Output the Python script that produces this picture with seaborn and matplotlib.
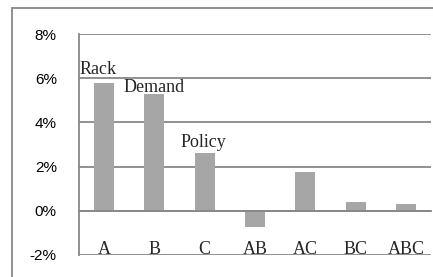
import matplotlib
matplotlib.use('Agg')
import matplotlib.pyplot as plt
from matplotlib.lines import Line2D
from matplotlib.ticker import FuncFormatter, FixedLocator
import seaborn as sns

sns.set_style('white')

# data (percent)
categories = ['A', 'B', 'C', 'AB', 'AC', 'BC', 'ABC']
effects = [5.77, 5.27, 2.62, -0.74, 1.74, 0.42, 0.32]
factor_labels = ['Rack', 'Demand', 'Policy']
y_ticks = [-2, 0, 2, 4, 6, 8]

bar_color = '#a6a6a6'
line_color = '#888888'

fig = plt.figure(figsize=(4.33, 2.77), dpi=100)
ax = fig.add_axes([79/433, 1 - 255/277, (431-79)/433, (255-34)/277])

sns.barplot(x=categories, y=effects, color=bar_color, width=0.4, ax=ax,
            saturation=1, edgecolor='none')

ax.set_xlim(-0.5, len(categories) - 0.5)
ax.set_ylim(y_ticks[0], y_ticks[-1])
ax.set_yticks(y_ticks)
ax.yaxis.set_major_formatter(FuncFormatter(lambda v, p: '%d%%' % v))
ax.grid(axis='y', color=line_color, linewidth=1.3)
ax.set_axisbelow(True)

for s in ['top', 'right']:
    ax.spines[s].set_visible(False)
ax.spines['left'].set_color(line_color)
ax.spines['left'].set_linewidth(1.3)
ax.spines['bottom'].set_position(('data', 0))
ax.spines['bottom'].set_color(line_color)
ax.spines['bottom'].set_linewidth(1.3)

ax.tick_params(axis='y', length=5, width=1.3, color=line_color, pad=11,
               labelsize=11, labelcolor='black')
for t in ax.get_yticklabels():
    t.set_fontfamily('Liberation Sans')

ax.xaxis.set_minor_locator(FixedLocator([i + 0.5 for i in range(-1, len(categories))]))
ax.tick_params(axis='x', which='major', length=0, pad=22, labelsize=13)
ax.tick_params(axis='x', which='minor', length=4, width=1.3, color=line_color)
for t in ax.get_xticklabels():
    t.set_fontfamily('Liberation Serif')
ax.set_xlabel('')
ax.set_ylabel('')

# factor labels above the main-effect bars
offsets = [(-0.12, 0.41), (0.0, 0.09), (-0.03, 0.28)]
for i, (lab, (dx, dy)) in enumerate(zip(factor_labels, offsets)):
    ax.text(i + dx, effects[i] + dy, lab, ha='center', va='baseline',
            fontsize=13, family='Liberation Serif')

# chart area border (top and left visible)
fig.add_artist(Line2D([12/433, 1.01], [1 - 8/277, 1 - 8/277], color=line_color, lw=1.3))
fig.add_artist(Line2D([12/433, 12/433], [-0.01, 1 - 8/277], color=line_color, lw=1.3))

fig.savefig('out.png', dpi=100)
